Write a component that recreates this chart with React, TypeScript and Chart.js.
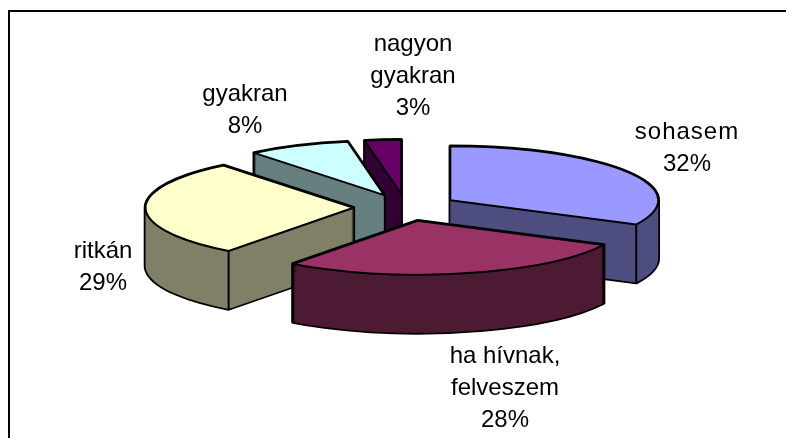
import React, { useEffect, useRef } from "react";
import { Chart, registerables } from "chart.js";

Chart.register(...registerables);

const categories = ["sohasem", "ha hívnak, felveszem", "ritkán", "gyakran", "nagyon gyakran"];
const labelLines = [["sohasem"], ["ha hívnak,", "felveszem"], ["ritkán"], ["gyakran"], ["nagyon", "gyakran"]];
const values = [32.4, 27.85, 29, 7.95, 2.8];
const topColors = ["#9999FF", "#993366", "#FFFFCC", "#CCFFFF", "#660066"];
const wallColors = ["#4D4D80", "#4D1A33", "#808066", "#668080", "#330033"];

// Layout of the tilted pie (separate from the data)
const PIE_X = 405.8;
const PIE_Y = 207.5;
const RADIUS = 208;
const SQUASH = 0.26;
const DEPTH = 58;
const EXPLODE = 52.3;
const DRAW_ORDER = [4, 3, 0, 2, 1];
const LABEL_ANCHORS = [
  { x: 687, y: 139 },
  { x: 505, y: 363 },
  { x: 103, y: 258 },
  { x: 245, y: 101 },
  { x: 413, y: 51 },
];
const FONT = '24px "Liberation Sans", Arial, sans-serif';
const LINE_GAP = 32;

const pie3d = {
  id: "pie3d",
  beforeDatasetDraw(chart: any) {
    const { ctx } = chart;
    const arcs = chart.getDatasetMeta(0).data;

    for (const i of DRAW_ORDER) {
      const el = arcs[i];
      const { x, y, startAngle, endAngle, outerRadius } = el;
      const mid = (startAngle + endAngle) / 2;
      const vx = PIE_X + Math.cos(mid) * EXPLODE;
      const vy = PIE_Y + Math.sin(mid) * EXPLODE * SQUASH;

      const addSlice = (dy: number) => {
        ctx.moveTo(vx, vy + dy);
        ctx.ellipse(vx, vy + dy, outerRadius, outerRadius * SQUASH, 0, startAngle, endAngle);
        ctx.closePath();
      };
      const sweepPath = () => {
        ctx.beginPath();
        for (let dy = DEPTH; dy >= 0; dy -= 1) addSlice(dy);
      };

      ctx.save();
      ctx.lineJoin = "round";
      ctx.strokeStyle = "#000000";

      // Extruded body: black silhouette, then one wall fill over it
      ctx.lineWidth = 3.5;
      sweepPath();
      ctx.stroke();
      ctx.fillStyle = wallColors[i];
      sweepPath();
      ctx.fill("nonzero");

      ctx.lineWidth = 2;
      // Vertical edges at front-facing outer corners
      for (const a of [startAngle, endAngle]) {
        if (Math.sin(a) > 0) {
          const ex = vx + Math.cos(a) * outerRadius;
          const ey = vy + Math.sin(a) * outerRadius * SQUASH;
          ctx.beginPath();
          ctx.moveTo(ex, ey);
          ctx.lineTo(ex, ey + DEPTH);
          ctx.stroke();
        }
      }

      // Top face: the library's own arc element, tilted
      ctx.save();
      ctx.translate(vx, vy);
      ctx.scale(1, SQUASH);
      ctx.translate(-x, -y);
      el.draw(ctx);
      ctx.restore();
      ctx.beginPath();
      addSlice(0);
      ctx.stroke();
      ctx.restore();
    }
    return false;
  },
  afterDraw(chart: any) {
    const { ctx } = chart;
    const total = values.reduce((a, b) => a + b, 0);
    ctx.save();
    ctx.font = FONT;
    ctx.fillStyle = "#000000";
    ctx.textAlign = "center";
    ctx.textBaseline = "alphabetic";
    labelLines.forEach((lines, i) => {
      const all = [...lines, `${Math.round((values[i] / total) * 100)}%`];
      all.forEach((line, n) => {
        (ctx as any).letterSpacing = line === "sohasem" ? "1px" : "0px";
        ctx.fillText(line, LABEL_ANCHORS[i].x, LABEL_ANCHORS[i].y + n * LINE_GAP);
      });
    });
    ctx.restore();
  },
};

export default function App() {
  const ref = useRef<HTMLCanvasElement>(null);
  useEffect(() => {
    document.body.style.margin = "0";
    const chart = new Chart(ref.current as HTMLCanvasElement, {
      type: "pie",
      data: {
        labels: categories,
        datasets: [
          {
            data: values,
            backgroundColor: topColors,
            borderWidth: 0,
            radius: RADIUS,
          } as any,
        ],
      },
      options: {
        animation: false,
        responsive: false,
        layout: { padding: 0 },
        plugins: { legend: { display: false }, tooltip: { enabled: false } },
      },
      plugins: [pie3d],
    } as any);
    return () => chart.destroy();
  }, []);
  return (
    <div style={{ position: "relative", width: 786, height: 438, overflow: "hidden", background: "#fff" }}>
      <div
        style={{
          position: "absolute",
          left: 8,
          top: 10,
          width: 800,
          height: 460,
          borderLeft: "2px solid #000",
          borderTop: "2px solid #000",
          boxSizing: "content-box",
        }}
      />
      <canvas ref={ref} width={786} height={438} style={{ position: "absolute", left: 0, top: 0 }} />
    </div>
  );
}
